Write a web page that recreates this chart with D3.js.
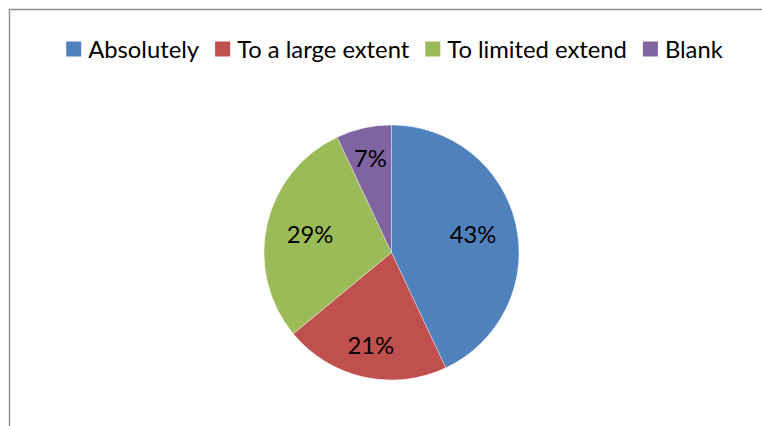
<!DOCTYPE html>
<html>
<head>
<meta charset="utf-8">
<script src="https://cdn.jsdelivr.net/npm/d3@7"></script>
<style>
  html, body { margin: 0; padding: 0; background: #fff; overflow: hidden; }
  svg { display: block; }
  text { font-family: Lato, "Open Sans", sans-serif; fill: #000; }
</style>
</head>
<body>
<svg id="chart" width="762" height="426"></svg>
<script>
const categories = ["Absolutely", "To a large extent", "To limited extend", "Blank"];
const values = [43, 21, 29, 7];
const labels = ["43%", "21%", "29%", "7%"];
const colors = ["#4F81BD", "#C0504D", "#9BBB59", "#8064A2"];

const W = 762, H = 426;
const svg = d3.select("#chart");

// chart frame (extends beyond the right and bottom edges)
svg.append("path")
  .attr("d", `M9.5,${H + 10}V9.5H${W + 10}`)
  .attr("fill", "none")
  .attr("stroke", "#8c8c8c")
  .attr("stroke-width", 1.4);

// font sizing: fit "Absolutely" to the reference width
const probe = svg.append("text").attr("font-size", 100).text(categories[0]);
const wProbe = probe.node().getComputedTextLength();
probe.remove();
const fontSize = 100 * 111 / wProbe;

// legend
const legend = svg.append("g");
const sw = 15, gapText = 7, gapItem = 16;
let x = 0;
categories.forEach((c, i) => {
  const g = legend.append("g").attr("transform", `translate(${x},0)`);
  g.append("rect").attr("x", 0).attr("y", -sw / 2).attr("width", sw).attr("height", sw)
    .attr("fill", colors[i]);
  const t = g.append("text").attr("x", sw + gapText).attr("y", 0)
    .attr("dominant-baseline", "central")
    .attr("font-size", fontSize).text(c);
  x += sw + gapText + t.node().getComputedTextLength() + gapItem;
});
const legendW = x - gapItem;
legend.attr("transform", `translate(${394.5 - legendW / 2},${49})`);

// pie
const cx = 391.5, cy = 252.5, R = 127.5;
const pie = d3.pie().sort(null).value(d => d)(values);
const arc = d3.arc().innerRadius(0).outerRadius(R);
const g = svg.append("g").attr("transform", `translate(${cx},${cy})`);
g.selectAll("path").data(pie).join("path")
  .attr("d", arc)
  .attr("fill", (d, i) => colors[i])
  .attr("stroke", "#fff")
  .attr("stroke-width", 0.6)
  .attr("stroke-opacity", 0.6);

// data labels placed along slice bisector, box pulled inside
const Rl = 108;
g.selectAll("text.lbl").data(pie).join("text")
  .attr("class", "lbl")
  .attr("font-size", fontSize)
  .attr("text-anchor", "middle")
  .attr("dominant-baseline", "central")
  .text((d, i) => labels[i])
  .each(function (d) {
    const a = (d.startAngle + d.endAngle) / 2;
    const dx = Math.sin(a), dy = -Math.cos(a);
    const hw = this.getComputedTextLength() / 2, hh = 8;
    const dist = Rl - (hw * Math.abs(dx) + hh * Math.abs(dy));
    d3.select(this).attr("x", dx * dist).attr("y", dy * dist);
  });
</script>
</body>
</html>
